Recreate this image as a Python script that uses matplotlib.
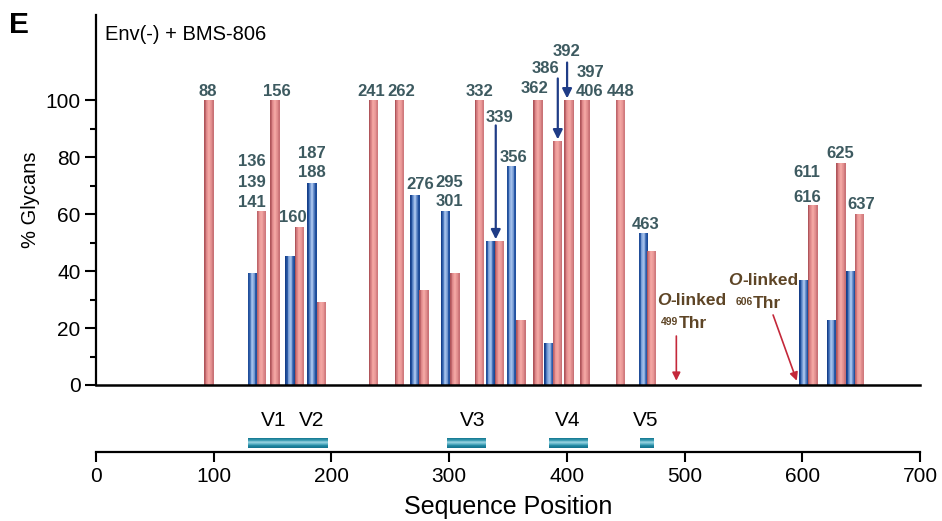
import numpy as np
import matplotlib
matplotlib.use('Agg')
import matplotlib.pyplot as plt
from matplotlib.colors import LinearSegmentedColormap

plt.rcParams['font.family'] = ['Liberation Sans', 'DejaVu Sans']

# ---- data ----
# red bars (site position, % glycans)
red_pos = [96, 140.6, 152, 173, 191.6, 235.8, 258, 278.7, 305, 326, 343, 361,
           375.5, 392, 402, 415.5, 445.6, 472, 609, 633, 648.6]
red_pct = [100, 61, 100, 55.4, 29.2, 100, 100, 33.4, 39.3, 100, 50.5, 22.8,
           100, 85.7, 100, 100, 100, 47.1, 63.2, 78, 60]

# blue bars
blue_pos = [133, 165, 183.5, 271, 297, 335, 353, 385, 465, 601.5, 625, 641.5]
blue_pct = [39.3, 45.4, 70.9, 66.8, 61, 50.5, 76.8, 14.7, 53.4, 36.8, 22.8, 40]

# site labels (text, x, y)
site_labels = [('88', 95, 103.2), ('156', 153.5, 103.2),
               ('136', 132.5, 78.4), ('139', 132.5, 71.1), ('141', 132.5, 64.1),
               ('160', 167, 59), ('187', 183, 81.4), ('188', 183, 74.5),
               ('241', 233.6, 103.2), ('262', 259.7, 103.2), ('276', 275.8, 70.5),
               ('295', 300, 71), ('301', 300, 64.6), ('332', 325.4, 103.2),
               ('339', 343, 94.1), ('356', 355, 80), ('362', 372.7, 104.1),
               ('386', 381.5, 111.2), ('392', 399.3, 117.3),
               ('397', 419.7, 109.9), ('406', 419.7, 103.2), ('448', 445.7, 103.2),
               ('463', 467, 56.5), ('611', 603.8, 74.5), ('616', 603.8, 66),
               ('625', 632, 81.3), ('637', 650.5, 63.5)]

# blue pointer arrows (x, y_start, y_end)
blue_arrows = [(339.6, 91.2, 51.2), (392.3, 107.7, 86.3), (400.2, 113.3, 100.7)]

# O-linked sites: (site, label x, label y, Thr x, Thr y, arrow start, arrow end)
olinked = [('499', 506, 29.6, 506.8, 21.6, (493, 17.2), (493, 1.5)),
           ('606', 566.9, 36.6, 569.8, 28.7, (575.2, 24.6), (595.3, 1.5))]

# variable regions
v_names = ['V1', 'V2', 'V3', 'V4', 'V5']
v_start = [128.9, 156.3, 297.8, 384.9, 462.2]
v_end = [156.3, 197.3, 331.4, 418, 474]
v_label_x = [151, 183, 320, 401, 467]

red_cmap = LinearSegmentedColormap.from_list(
    'red', ['#b0555a', '#d27a7e', '#ee9c9a', '#f3a8a4', '#eb9a98', '#d98486', '#c97276'])
blue_cmap = LinearSegmentedColormap.from_list(
    'blue', ['#163f8a', '#2f60ac', '#86a8dc', '#aac6ee', '#7c9fd6', '#2b5aa8', '#1b4a96'])
teal_cmap = LinearSegmentedColormap.from_list(
    'teal', ['#1a7e96', '#3a9cb2', '#9ad4e2', '#5fb4c8', '#1f86a0', '#157590'])


def shaded_bars(ax, xs, hs, cmap, width=8.0, n=14):
    # one bar drawn as thin vertical strips to get the cylinder shading
    xs = np.asarray(xs, dtype=float)
    hs = np.asarray(hs, dtype=float)
    for k in range(n):
        off = -width / 2 + (k + 0.5) * width / n
        ax.bar(xs + off, hs, width=width / n * 1.08, color=cmap(k / (n - 1)),
               linewidth=0, zorder=2)


fig = plt.figure(figsize=(9.42, 5.21), dpi=100)

# ---- upper panel: bars ----
ax = fig.add_axes([96 / 942, 1 - 385 / 521, 824 / 942, 370 / 521])
shaded_bars(ax, blue_pos, blue_pct, blue_cmap)
shaded_bars(ax, red_pos, red_pct, red_cmap)

ax.set_xlim(0, 700)
ax.set_ylim(0, 130)
ax.set_yticks([0, 20, 40, 60, 80, 100])
ax.set_yticks([10, 30, 50, 70, 90], minor=True)
ax.set_xticks([])
ax.tick_params(axis='y', which='major', length=8, width=1.5, labelsize=15, pad=3)
ax.tick_params(axis='y', which='minor', length=4.5, width=1.5)
for s in ['top', 'right']:
    ax.spines[s].set_visible(False)
ax.spines['left'].set_linewidth(1.6)
ax.spines['bottom'].set_linewidth(1.8)
ax.spines['bottom'].set_zorder(3)
ax.set_ylabel('% Glycans', fontsize=14.5, labelpad=4)

for txt, x, y in site_labels:
    ax.text(x, y, txt, ha='center', va='center', fontsize=12, fontweight='bold',
            color='#3d5a60', zorder=4)

for x, y0, y1 in blue_arrows:
    ax.annotate('', xy=(x, y1), xytext=(x, y0),
                arrowprops=dict(arrowstyle='-|>', color='#1f3c86', lw=1.6,
                                mutation_scale=14, shrinkA=0, shrinkB=0), zorder=5)

brown = '#5e4526'
for site, lx, ly, tx, ty, a0, a1 in olinked:
    o = ax.text(lx - 29.5, ly, 'O', ha='left', va='center', fontsize=12.5,
                fontweight='bold', fontstyle='italic', color=brown)
    ax.annotate('-linked', xy=(1, 0.5), xycoords=o, ha='left', va='center',
                fontsize=12.5, fontweight='bold', color=brown)
    t = ax.text(tx, ty, 'Thr', ha='center', va='center', fontsize=12.5,
                fontweight='bold', color=brown)
    ax.annotate(site, xy=(0, 0.92), xycoords=t, ha='right', va='top',
                fontsize=7.5, fontweight='bold', color=brown)
    ax.annotate('', xy=a1, xytext=a0,
                arrowprops=dict(arrowstyle='-|>', color='#c4283a', lw=1.2,
                                mutation_scale=12, shrinkA=0, shrinkB=0))

# ---- lower panel: variable regions and sequence axis ----
ax2 = fig.add_axes([96 / 942, 1 - 452 / 521, 824 / 942, 62 / 521])
ax2.set_xlim(0, 700)
ax2.set_ylim(0, 1)
vs = np.array(v_start)
ve = np.array(v_end)
n = 10
y_lo, y_hi = 0.07, 0.22
for k in range(n):
    y = y_hi - (k + 0.5) * (y_hi - y_lo) / n
    ax2.barh(y, ve - vs, left=vs, height=(y_hi - y_lo) / n * 1.1,
             color=teal_cmap(k / (n - 1)), linewidth=0)
for name, x in zip(v_names, v_label_x):
    ax2.text(x, 0.5, name, ha='center', va='center', fontsize=15)

ax2.set_xticks(range(0, 701, 100))
ax2.set_yticks([])
for s in ['top', 'right', 'left']:
    ax2.spines[s].set_visible(False)
ax2.spines['bottom'].set_linewidth(1.6)
ax2.tick_params(axis='x', length=7, width=1.5, labelsize=15, pad=4)
ax2.set_xlabel('Sequence Position', fontsize=18, labelpad=6)

fig.text(9 / 942, 1 - 33 / 521, 'E', fontsize=21.5, fontweight='bold', va='baseline')
fig.text(105 / 942, 1 - 34 / 521, 'Env(-) + BMS-806', fontsize=14.5, va='center')

fig.savefig('out.png', dpi=100)
